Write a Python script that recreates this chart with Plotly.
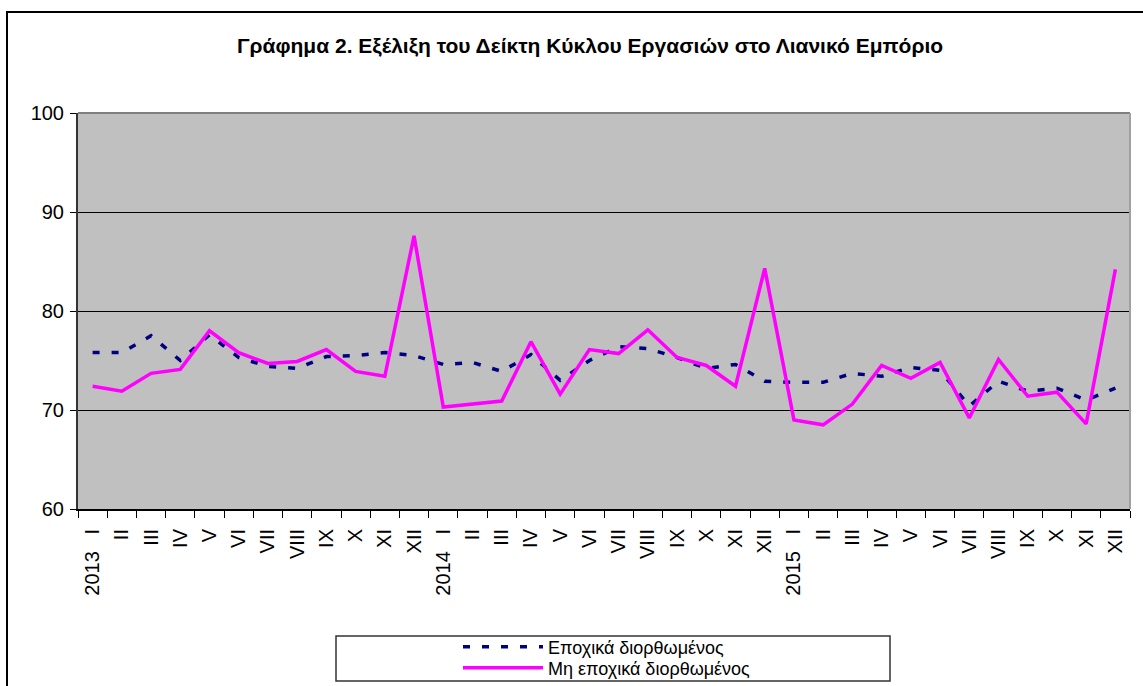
import plotly.graph_objects as go

# ---- data ----
years = ["2013", "2014", "2015"]
months = ["I", "II", "III", "IV", "V", "VI", "VII", "VIII", "IX", "X", "XI", "XII"]
periods = [f"{y}-{m}" for y in years for m in months]
SP = "\u00a0\u00a0\u00a0"
tick_labels = [
    "2013" + SP + "I", "II", "III", "IV", "V", "VI", "VII", "VIII", "IX", "X", "XI", "XII",
    "2014" + SP + "I", "II", "III", "IV", "V", "VI", "VII", "VIII", "IX", "X", "XI", "XII",
    "2015" + SP + "I", "II", "III", "IV", "V", "VI", "VII", "VIII", "IX", "X", "XI", "XII",
]
seasonally_adjusted = [
    75.8, 75.8, 77.5, 75.0, 77.6, 75.3, 74.4, 74.2, 75.4, 75.5, 75.8, 75.5,
    74.6, 74.8, 73.9, 75.6, 73.0, 75.0, 76.4, 76.2, 75.3, 74.2, 74.6, 72.9,
    72.8, 72.8, 73.7, 73.4, 74.3, 74.0, 70.4, 72.9, 71.9, 72.2, 71.0, 72.2,
]
not_adjusted = [
    72.4, 71.9, 73.7, 74.1, 78.0, 75.8, 74.7, 74.9, 76.1, 73.9, 73.4, 87.6,
    70.3, 70.6, 70.9, 76.9, 71.6, 76.1, 75.7, 78.1, 75.3, 74.5, 72.4, 84.3,
    69.0, 68.5, 70.6, 74.5, 73.2, 74.8, 69.2, 75.1, 71.4, 71.8, 68.6, 84.2,
]
name_sa = "Εποχικά διορθωμένος"
name_nsa = "Μη εποχικά διορθωμένος"
title = "Γράφημα 2. Εξέλιξη του Δείκτη Κύκλου Εργασιών στο Λιανικό Εμπόριο"

FONT = "Liberation Sans, Arial, sans-serif"

fig = go.Figure()
fig.add_trace(go.Scatter(
    x=periods, y=seasonally_adjusted, name=name_sa, mode="lines",
    line=dict(color="#000080", width=3.5, dash="7px,12px"),
    legend="legend",
))
fig.add_trace(go.Scatter(
    x=periods, y=not_adjusted, name=name_nsa, mode="lines",
    line=dict(color="#FF00FF", width=3.5),
    legend="legend2",
))

W, H = 1143, 686
L, R, T, B = 78, 13, 113, 177
pw, ph = W - L - R, H - T - B


def px_x(p):
    return (p - L) / pw


def px_y(p):
    return (H - B - p) / ph


legend_common = dict(
    xanchor="left", yanchor="middle",
    font=dict(family=FONT, size=18, color="black"),
    bgcolor="rgba(0,0,0,0)", borderwidth=0,
    itemwidth=80,
)

fig.update_layout(
    width=W, height=H,
    margin=dict(l=L, r=R, t=T, b=B, pad=0, autoexpand=False),
    paper_bgcolor="white",
    plot_bgcolor="#C0C0C0",
    font=dict(family=FONT, color="black", size=18),
    showlegend=True,
    legend=dict(x=px_x(458), y=px_y(647), **legend_common),
    legend2=dict(x=px_x(458), y=px_y(668), **legend_common),
    xaxis=dict(
        type="category",
        categoryorder="array", categoryarray=periods,
        tickmode="array", tickvals=periods, ticktext=tick_labels,
        tickangle=-90,
        tickson="boundaries",
        ticks="outside", ticklen=7, tickcolor="black", tickwidth=1,
        showgrid=False,
        showline=True, linecolor="black", linewidth=2,
        range=[-0.5, len(periods) - 0.5],
        tickfont=dict(family=FONT, size=20, color="black"),
        ticklabelstandoff=10,
        zeroline=False,
        automargin=False,
    ),
    yaxis=dict(
        range=[60, 100], tickmode="linear", tick0=60, dtick=10,
        ticks="outside", ticklen=6, tickcolor="black",
        showgrid=True, gridcolor="black", gridwidth=1,
        showline=True, linecolor="#333333", linewidth=2,
        tickfont=dict(family=FONT, size=20, color="black"),
        ticklabelstandoff=2,
        zeroline=False,
        automargin=False,
    ),
    annotations=[dict(
        text="<b>" + title + "</b>", xref="paper", yref="paper",
        x=px_x(590), y=px_y(45), xanchor="center", yanchor="middle",
        showarrow=False, font=dict(family=FONT, size=21, color="black"),
    )],
    shapes=[
        # outer chart border
        dict(type="rect", xref="paper", yref="paper",
             x0=px_x(7), x1=px_x(1160), y0=px_y(12), y1=px_y(700),
             line=dict(color="black", width=2), layer="below"),
        # plot area top / right border
        dict(type="line", xref="paper", yref="paper",
             x0=0, x1=1, y0=1, y1=1,
             line=dict(color="#808080", width=2), layer="above"),
        dict(type="line", xref="paper", yref="paper",
             x0=1, x1=1, y0=0, y1=1,
             line=dict(color="#A0A0A0", width=2), layer="above"),
        # legend box
        dict(type="rect", xref="paper", yref="paper",
             x0=px_x(336), x1=px_x(890), y0=px_y(636), y1=px_y(681),
             line=dict(color="#333333", width=1.5), layer="below"),
    ],
)

fig.write_html(
    "out.html",
    config={"displayModeBar": False},
    post_script="document.body.style.margin='0';document.body.style.overflow='hidden';",
)
